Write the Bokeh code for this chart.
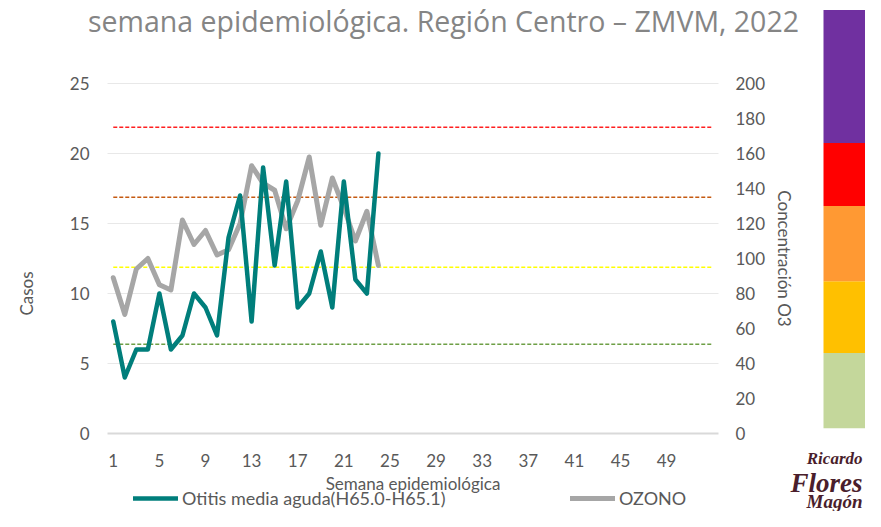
from bokeh.plotting import figure
from bokeh.models import (Range1d, LinearAxis, FixedTicker, Legend, LegendItem, Label,
                          BoxAnnotation)
from bokeh.embed import file_html
from bokeh.resources import INLINE

# ---------------- data ----------------
weeks = list(range(1, 25))
otitis = [8, 4, 6, 6, 10, 6, 7, 10, 9, 7, 14, 17, 8, 19, 12, 18, 9, 10, 13, 9, 18, 11, 10, 20]
ozono = [89, 68, 94, 100, 85, 82, 122, 108, 116, 102, 105, 120, 153, 143, 139, 117,
         133, 158, 119, 146, 129, 110, 127, 96]
weeks_all = list(range(1, 54))
threshold_values = [51, 95, 135, 175]
threshold_colors = ["#6E9F46", "#FFFF00", "#C55A11", "#FF2020"]
x_ticks = list(range(1, 50, 4))
left_ticks = [0, 5, 10, 15, 20, 25]
right_ticks = list(range(0, 201, 20))

# colour scale bar on the right (O3 units)
band_bottom = [3, 46, 87, 130, 166]
band_top = [46, 87, 130, 166, 242]
band_colors = ["#C4D79B", "#FFC000", "#FF9933", "#FF0000", "#7030A0"]

title_text = "semana epidemiológica. Región Centro – ZMVM, 2022"
logo_lines = ["Ricardo", "Flores", "Magón"]

# ---------------- layout (pixels) ----------------
W, H = 865, 511
PLOT_L, PLOT_R, PLOT_T, PLOT_B = 107, 718, 83, 433   # plot area inside the canvas
X_LO, X_HI = 0.5, 53.5                               # week axis extent
Y_HI, O3_HI = 25, 200
FONT = "Lato"
TXT = "#595959"

xpx = (PLOT_R - PLOT_L) / (X_HI - X_LO)
ypx = (PLOT_B - PLOT_T) / Y_HI
opx = (PLOT_B - PLOT_T) / O3_HI

p = figure(width=W, height=H,
           x_range=Range1d(X_LO - PLOT_L / xpx, X_HI + (W - PLOT_R) / xpx),
           y_range=Range1d(-(H - PLOT_B) / ypx, Y_HI + PLOT_T / ypx),
           output_backend="svg", toolbar_location=None, min_border=0,
           x_axis_location=None, y_axis_location=None)
p.extra_y_ranges = {"o3": Range1d(-(H - PLOT_B) / opx, O3_HI + PLOT_T / opx)}
p.outline_line_color = None
p.background_fill_color = "white"
p.border_fill_color = "white"
p.grid.visible = False

xaxis = LinearAxis(ticker=FixedTicker(ticks=x_ticks), axis_label="Semana epidemiológica",
                   fixed_location=0, bounds=(X_LO, X_HI))
yaxis = LinearAxis(ticker=FixedTicker(ticks=left_ticks), axis_label="Casos",
                   fixed_location=X_LO, bounds=(-5, Y_HI))
raxis = LinearAxis(y_range_name="o3", ticker=FixedTicker(ticks=right_ticks),
                   axis_label="Concentración O3", fixed_location=X_HI, bounds=(0, O3_HI))
p.add_layout(xaxis, "below")
p.add_layout(yaxis, "left")
p.add_layout(raxis, "right")

for ax in [xaxis, yaxis, raxis]:
    ax.major_tick_line_color = None
    ax.minor_tick_line_color = None
    ax.major_tick_out = 0
    ax.major_tick_in = 0
    ax.minor_tick_out = 0
    ax.major_label_text_font = FONT
    ax.major_label_text_font_size = "17px"
    ax.major_label_text_color = TXT
    ax.axis_label_text_font = FONT
    ax.axis_label_text_font_size = "17px"
    ax.axis_label_text_color = TXT
    ax.axis_label_text_font_style = "normal"

xaxis.axis_line_color = "#d9d9d9"
xaxis.axis_line_width = 2
xaxis.major_label_standoff = 20
xaxis.axis_label_standoff = 3
yaxis.axis_line_color = None
yaxis.major_label_standoff = 18
yaxis.axis_label_standoff = 30
raxis.axis_line_color = None
raxis.major_label_standoff = 17
raxis.axis_label_standoff = 6

# horizontal gridlines of the left axis
p.segment(x0=X_LO, x1=X_HI, y0=left_ticks[1:], y1=left_ticks[1:],
          line_color="#e8e8e8", line_width=1)

# threshold dashed lines
for v, c in zip(threshold_values, threshold_colors):
    p.line(weeks_all, [v] * len(weeks_all), y_range_name="o3", line_color=c,
           line_width=1.6, line_dash="4 2")

# series
r_oz = p.line(weeks, ozono, y_range_name="o3", line_color="#A6A6A6", line_width=5,
              line_join="round", line_cap="round")
r_ot = p.line(weeks, otitis, line_color="#007E7B", line_width=4.5,
              line_join="round", line_cap="round")

# legend
lg = Legend(items=[LegendItem(label="Otitis media aguda(H65.0-H65.1)", renderers=[r_ot]),
                   LegendItem(label="OZONO", renderers=[r_oz])],
            location=(133, 2), orientation="horizontal", padding=0, margin=0,
            glyph_width=45, glyph_height=18, label_height=18, label_width=264, spacing=124,
            label_standoff=4, border_line_color=None, background_fill_alpha=0,
            label_text_font=FONT, label_text_font_size="18px", label_text_color=TXT)
p.add_layout(lg)

# title
p.add_layout(Label(x=443, y=H - 20, x_units="screen", y_units="screen", text=title_text,
                   text_align="center", text_baseline="alphabetic",
                   text_font="Open Sans", text_font_size="28.5px", text_color="#858585"))

# colour scale bands
for b, t, c in zip(band_bottom, band_top, band_colors):
    p.add_layout(BoxAnnotation(left=823, right=W + 10, left_units="screen", right_units="screen",
                               bottom=b, top=t, y_range_name="o3",
                               fill_color=c, fill_alpha=1, line_color=None))

# logo text
for txt, yb, size in zip(logo_lines, [H - 458, H - 482, H - 501], ["17px", "27px", "19px"]):
    p.add_layout(Label(x=W - 3, y=yb, x_units="screen", y_units="screen", text=txt,
                       text_align="right", text_baseline="alphabetic",
                       text_font="Liberation Serif", text_font_style="bold italic",
                       text_font_size=size, text_color="#4A1E2C"))

open("out.html", "w").write(file_html(p, INLINE))
